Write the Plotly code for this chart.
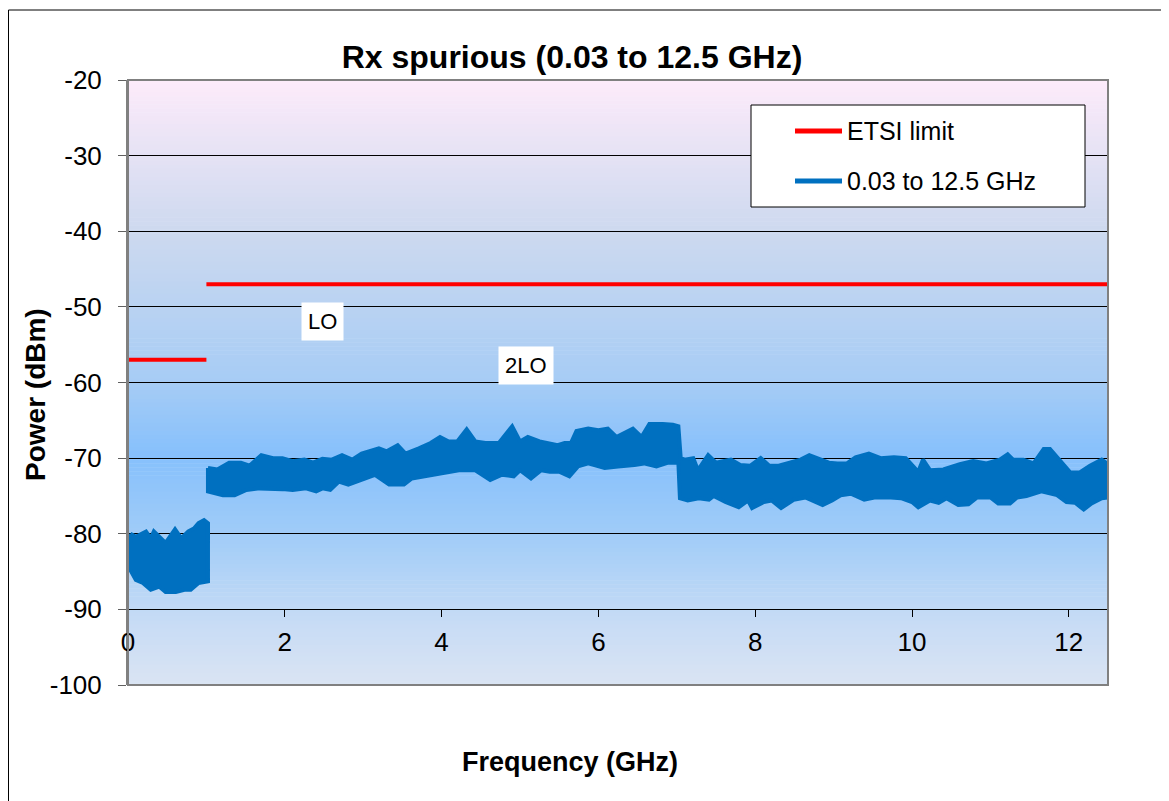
import plotly.graph_objects as go

# ---------------- data ----------------
freq_ticks = [0, 2, 4, 6, 8, 10, 12]
power_ticks = [-100, -90, -80, -70, -60, -50, -40, -30, -20]
power_labels = ["-100", "-90", "-80", "-70", "-60", "-50", "-40", "-30", "-20"]

limit_name = "ETSI limit"
limit_ghz = [0, 1, None, 1, 12.5]
limit_dbm = [-57, -57, None, -47, -47]

sweep_name = "0.03 to 12.5 GHz"
# upper envelope of the measured sweep (segments separated by None)
upper_ghz = [0.03, 0.10, 0.23, 0.29, 0.33, 0.40, 0.48, 0.60, 0.68, 0.77, 0.84, 0.90, 0.97, 1.02,
             None,
             1.02, 1.14, 1.29, 1.44, 1.55, 1.70, 1.85, 1.97, 2.10, 2.25, 2.36, 2.48, 2.60, 2.73,
             2.86, 2.98, 3.20, 3.30, 3.44, 3.54, 3.71, 3.86, 3.98, 4.09, 4.20, 4.32, 4.43, 4.56,
             4.73, 4.90, 5.00, 5.10, 5.25, 5.36, 5.48, 5.57, 5.65, 5.72, 5.87, 6.00, 6.12, 6.23,
             6.34, 6.44, 6.55, 6.65, 6.82, 6.95, 7.02, 7.05, 7.10, 7.21, 7.27, 7.40, 7.50, 7.69,
             7.81, 7.94, 8.07, 8.18, 8.30, 8.45, 8.58, 8.69, 8.84, 8.94, 9.05, 9.17, 9.28, 9.45,
             9.60, 9.77, 9.92, 10.00, 10.08, 10.14, 10.23, 10.40, 10.61, 10.78, 10.95, 11.12,
             11.22, 11.29, 11.42, 11.55, 11.68, 11.76, 11.91, 12.02, 12.14, 12.27, 12.42, 12.50]
upper_dbm = [-80.0, -80.4, -79.7, -80.6, -79.7, -80.4, -81.2, -79.4, -80.6, -79.7, -79.3, -78.6, -78.2, -78.6,
             None,
             -71.3, -71.5, -70.6, -70.6, -71.0, -69.6, -70.0, -70.0, -70.4, -70.2, -70.6, -70.1, -70.2, -69.6,
             -70.2, -69.4, -68.7, -69.1, -68.3, -69.4, -68.7, -68.0, -67.2, -67.8, -67.8, -66.2, -67.8, -68.0,
             -68.0, -65.8, -67.8, -67.2, -67.8, -68.0, -68.3, -68.0, -68.0, -66.4, -66.1, -66.3, -66.1, -67.2,
             -66.6, -66.1, -67.2, -65.5, -65.5, -65.6, -65.8, -70.0, -70.2, -70.0, -71.6, -69.6, -70.6, -70.2,
             -70.9, -71.0, -70.0, -71.0, -71.0, -70.6, -70.2, -69.6, -70.2, -70.6, -70.7, -70.7, -69.9, -69.4,
             -70.0, -69.9, -70.0, -71.0, -71.8, -70.2, -71.6, -71.5, -70.8, -70.4, -70.7, -70.2,
             -69.5, -70.2, -70.2, -70.7, -68.8, -68.8, -70.6, -71.9, -71.9, -71.0, -70.2, -70.8]
# lower envelope of the measured sweep (segments separated by None)
lower_ghz = [0.03, 0.10, 0.19, 0.29, 0.40, 0.48, 0.61, 0.72, 0.80, 0.90, 1.02,
             None,
             1.02, 1.21, 1.36, 1.51, 1.68, 1.80, 1.97, 2.10, 2.27, 2.40, 2.48, 2.58, 2.69, 2.81,
             2.98, 3.15, 3.33, 3.52, 3.62, 3.84, 4.01, 4.22, 4.43, 4.52, 4.62, 4.77, 4.92, 5.00,
             5.14, 5.27, 5.38, 5.50, 5.63, 5.74, 5.87, 6.08, 6.25, 6.46, 6.58, 6.74, 6.89, 7.02,
             7.04, 7.14, 7.28, 7.41, 7.47, 7.62, 7.79, 7.91, 7.96, 8.11, 8.21, 8.33, 8.49, 8.64,
             8.86, 8.98, 9.09, 9.22, 9.39, 9.52, 9.73, 9.86, 10.00, 10.08, 10.23, 10.34, 10.44,
             10.59, 10.72, 10.83, 11.00, 11.10, 11.25, 11.34, 11.46, 11.65, 11.85, 11.97, 12.08,
             12.19, 12.29, 12.42, 12.50]
lower_dbm = [-84.8, -86.1, -86.5, -87.4, -87.0, -87.7, -87.7, -87.4, -87.4, -86.5, -86.3,
             None,
             -74.4, -74.9, -74.9, -74.2, -74.0, -74.0, -74.1, -74.2, -74.0, -74.4, -74.0, -74.2, -73.1, -73.5,
             -72.9, -72.2, -73.5, -73.5, -72.7, -72.2, -72.0, -71.6, -71.6, -72.2, -72.9, -72.2, -72.4, -71.6,
             -72.7, -71.6, -71.8, -71.8, -72.4, -71.1, -70.7, -71.3, -71.1, -70.9, -70.7, -71.1, -70.6, -70.6,
             -75.3, -75.6, -75.3, -75.5, -75.0, -75.8, -76.5, -75.6, -76.6, -75.8, -75.6, -76.6, -75.5, -75.2,
             -76.2, -75.6, -74.9, -74.7, -75.5, -75.2, -75.2, -75.3, -75.8, -76.5, -75.6, -75.9, -75.3,
             -76.2, -76.1, -75.2, -75.2, -76.0, -76.0, -75.2, -75.0, -74.4, -74.9, -75.8, -75.9,
             -76.8, -76.0, -75.3, -75.2]

annot_text = ["LO", "2LO"]
annot_ghz = [2.48, 5.08]
annot_dbm = [-51.9, -57.8]

# ---------------- styling ----------------
FONT = "Liberation Sans, Arial, Helvetica, sans-serif"
BLUE = "#0070C0"
RED = "#FF0000"
OFF = 8  # page offset of the plot div


def split_segments(xs, ys):
    segs, cx, cy = [], [], []
    for x, y in zip(xs, ys):
        if x is None:
            segs.append((cx, cy))
            cx, cy = [], []
        else:
            cx.append(x)
            cy.append(y)
    if cx:
        segs.append((cx, cy))
    return segs


poly_x, poly_y = [], []
for (ux, uy), (lx, ly) in zip(split_segments(upper_ghz, upper_dbm),
                              split_segments(lower_ghz, lower_dbm)):
    poly_x += ux + lx[::-1] + [ux[0], None]
    poly_y += uy + ly[::-1] + [uy[0], None]

fig = go.Figure()

fig.add_trace(go.Scatter(
    x=poly_x, y=poly_y, mode="lines", fill="toself",
    fillcolor=BLUE, line=dict(color=BLUE, width=4),
    name=sweep_name, showlegend=False, hoverinfo="skip"))

fig.add_trace(go.Scatter(
    x=limit_ghz, y=limit_dbm, mode="lines",
    line=dict(color=RED, width=4), name=limit_name, showlegend=False))

# background gradient of the plot area (pink at top -> blue -> light at bottom)
stops = [(0.00, (253, 235, 250)),
         (0.25, (205, 217, 239)),
         (0.50, (166, 204, 245)),
         (0.62, (134, 192, 252)),
         (0.75, (160, 204, 248)),
         (0.90, (200, 220, 245)),
         (1.00, (218, 228, 243))]


def grad_color(t):
    for (t0, c0), (t1, c1) in zip(stops[:-1], stops[1:]):
        if t0 <= t <= t1:
            f = (t - t0) / (t1 - t0)
            return "rgb(%d,%d,%d)" % tuple(round(a + (b - a) * f) for a, b in zip(c0, c1))
    return "rgb(%d,%d,%d)" % stops[-1][1]


shapes = []
N = 150
for i in range(N):
    t = (i + 0.5) / N
    shapes.append(dict(type="rect", xref="paper", yref="paper",
                       x0=0, x1=1, y0=1 - (i + 1) / N - 0.001, y1=1 - i / N,
                       fillcolor=grad_color(t), line=dict(width=0), layer="below"))

# plot-area border
shapes.append(dict(type="rect", xref="paper", yref="paper", x0=0, x1=1, y0=0, y1=1,
                   line=dict(color="#808080", width=2), fillcolor="rgba(0,0,0,0)", layer="above"))
# outer chart border (left and top edges visible)
shapes.append(dict(type="rect", xref="paper", yref="paper", x0=(8.5 - 128) / 980, x1=1.2,
                   y0=-0.4, y1=(685 - 10) / 605,
                   line=dict(color="#000000", width=1), fillcolor="rgba(0,0,0,0)", layer="above"))

# legend box (manual, to match the reference layout)
lg_x0, lg_x1 = (751 - 128) / 980, (1085 - 128) / 980
lg_y1, lg_y0 = (685 - 105) / 605, (685 - 207) / 605
shapes.append(dict(type="rect", xref="paper", yref="paper", x0=lg_x0, x1=lg_x1, y0=lg_y0, y1=lg_y1,
                   line=dict(color="#000000", width=1), fillcolor="white", layer="above"))
legend_items = [(limit_name, RED, 131), (sweep_name, BLUE, 181)]
annotations = []
for name, col, py in legend_items:
    yy = (685 - py) / 605
    shapes.append(dict(type="line", xref="paper", yref="paper",
                       x0=(795 - 128) / 980, x1=(842 - 128) / 980, y0=yy, y1=yy,
                       line=dict(color=col, width=5), layer="above"))
    annotations.append(dict(text=name, xref="paper", yref="paper", x=(845 - 128) / 980, y=yy,
                            xanchor="left", yanchor="middle", showarrow=False,
                            font=dict(family=FONT, size=25, color="black")))

for txt, gx, gy in zip(annot_text, annot_ghz, annot_dbm):
    annotations.append(dict(text=txt, x=gx, y=gy, xref="x", yref="y", showarrow=False,
                            bgcolor="white", borderpad=6,
                            font=dict(family=FONT, size=22, color="black")))

annotations.append(dict(text="<b>Frequency (GHz)</b>", xref="paper", yref="paper",
                        x=(570 - 128) / 980, y=(685 - 762) / 605, xanchor="center", yanchor="middle",
                        showarrow=False, font=dict(family=FONT, size=27, color="black")))
annotations.append(dict(text="<b>Power (dBm)</b>", xref="paper", yref="paper", textangle=-90,
                        x=(35 - 128) / 980, y=(685 - 395) / 605, xanchor="center", yanchor="middle",
                        showarrow=False, font=dict(family=FONT, size=28, color="black")))

fig.update_layout(
    width=1169, height=801,
    margin=dict(l=128 - OFF, r=61 + OFF, t=80 - OFF, b=116 + OFF),
    paper_bgcolor="white", plot_bgcolor="white",
    showlegend=False,
    title=dict(text="<b>Rx spurious (0.03 to 12.5 GHz)</b>", x=(572 - OFF) / 1169, xanchor="center",
               y=1 - (57 - OFF) / 801, yanchor="middle", font=dict(family=FONT, size=32, color="black")),
    xaxis=dict(range=[0, 12.5], tickvals=freq_ticks, ticks="outside", ticklen=7, tickwidth=1,
               tickcolor="black", showline=True, linecolor="black", linewidth=1,
               showgrid=False, zeroline=False, anchor="free", position=0.125,
               tickfont=dict(family=FONT, size=26, color="black"), ticklabelstandoff=2),
    yaxis=dict(range=[-100, -20], tickvals=power_ticks, ticktext=power_labels,
               ticks="outside", ticklen=8, tickwidth=1,
               tickcolor="#606060", showline=True, linecolor="#808080", linewidth=2,
               showgrid=True, gridcolor="black", gridwidth=1, zeroline=False,
               tickfont=dict(family=FONT, size=26, color="black"), ticklabelstandoff=11),
    shapes=shapes, annotations=annotations,
)

fig.write_html("out.html")
